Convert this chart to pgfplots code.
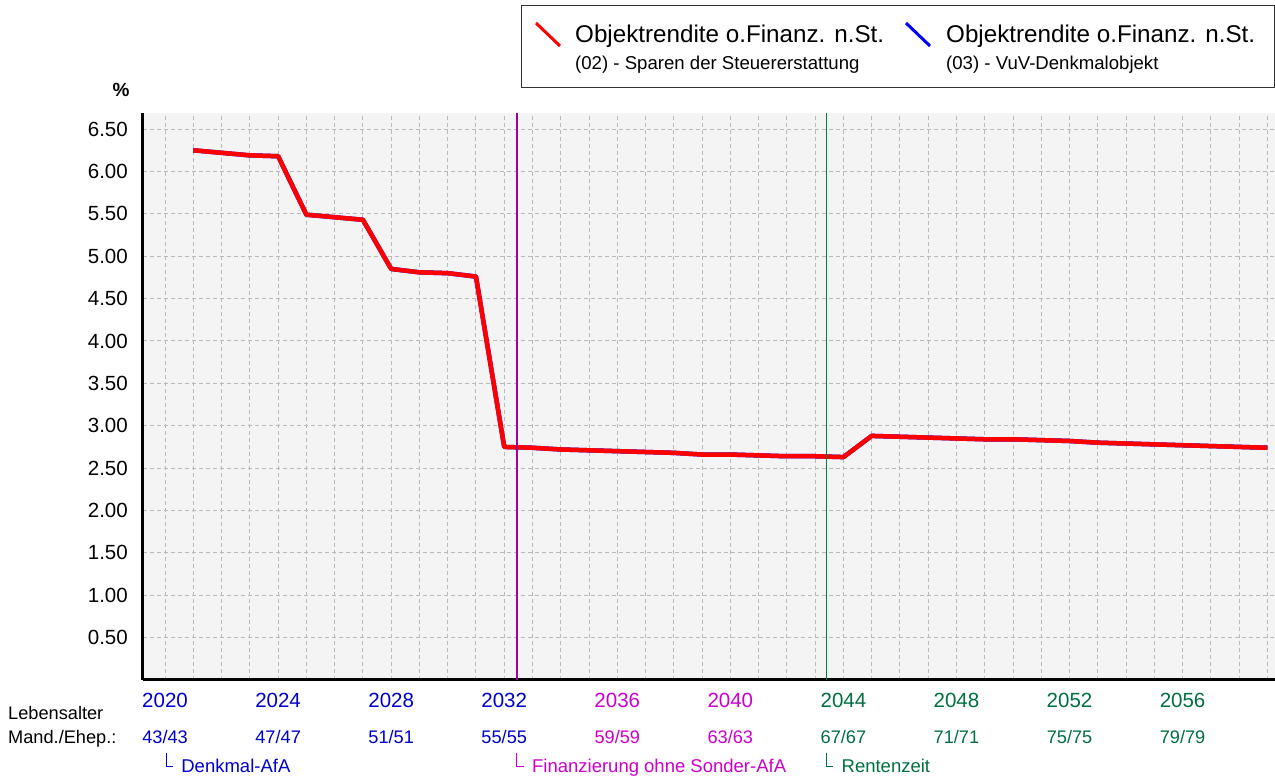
\documentclass[border=0pt]{standalone}
\usepackage{pgfplots}
\pgfplotsset{compat=1.18}
\usepackage{fontspec}
\setmainfont{Liberation Sans}
\definecolor{cblue}{RGB}{0,0,204}
\definecolor{cmag}{RGB}{204,0,204}
\definecolor{cgreen}{RGB}{0,112,64}
\definecolor{lmag}{RGB}{160,0,160}
\definecolor{lgreen}{RGB}{0,128,64}
\definecolor{bgc}{RGB}{244,244,244}
\definecolor{gridc}{RGB}{185,185,185}
\pgfplotstableread{
year val
2021 6.25
2022 6.22
2023 6.19
2024 6.18
2025 5.49
2026 5.46
2027 5.43
2028 4.85
2029 4.81
2030 4.80
2031 4.76
2032 2.75
2033 2.74
2034 2.72
2035 2.71
2036 2.70
2037 2.69
2038 2.68
2039 2.66
2040 2.66
2041 2.65
2042 2.64
2043 2.64
2044 2.63
2045 2.88
2046 2.87
2047 2.86
2048 2.85
2049 2.84
2050 2.84
2051 2.83
2052 2.82
2053 2.80
2054 2.79
2055 2.78
2056 2.77
2057 2.76
2058 2.75
2059 2.74
}\datatable
\begin{document}
\begin{tikzpicture}
\useasboundingbox (-143pt,-98pt) rectangle (1132pt,680pt);
\begin{axis}[
  at={(0,0)}, anchor=south west,
  scale only axis, width=1132pt, height=567pt,
  xmin=2019.22, xmax=2059.27, ymin=0, ymax=6.69,
  axis x line*=bottom, axis y line*=left,
  axis line style={-, line width=3pt, black},
  axis background/.style={fill=bgc},
  clip=false,
  xtick={2020,2024,2028,2032,2036,2040,2044,2048,2052,2056},
  xticklabels={\textcolor{cblue}{2020},\textcolor{cblue}{2024},\textcolor{cblue}{2028},\textcolor{cblue}{2032},\textcolor{cmag}{2036},\textcolor{cmag}{2040},\textcolor{cgreen}{2044},\textcolor{cgreen}{2048},\textcolor{cgreen}{2052},\textcolor{cgreen}{2056}},
  minor xtick={2021,2022,2023,2025,2026,2027,2029,2030,2031,2033,2034,2035,2037,2038,2039,2041,2042,2043,2045,2046,2047,2049,2050,2051,2053,2054,2055,2057,2058,2059},
  ytick={0.5,1.0,1.5,2.0,2.5,3.0,3.5,4.0,4.5,5.0,5.5,6.0,6.5},
  /pgf/number format/assume math mode=true,
  yticklabel={\pgfmathprintnumber[fixed,fixed zerofill,precision=2,assume math mode=true]{\tick}},
  major tick length=0pt, minor tick length=0pt,
  tick style={draw=none},
  grid=both,
  grid style={gridc, dash pattern=on 4pt off 3pt, line width=1pt},
  minor grid style={gridc, dash pattern=on 4pt off 3pt, line width=1pt},
  major grid style={gridc, dash pattern=on 4pt off 3pt, line width=1pt},
  xticklabel style={anchor=base, inner sep=0pt, yshift=-28pt, font=\fontsize{20.5}{24}\selectfont},
  yticklabel style={anchor=east, inner sep=0pt, xshift=-15pt, font=\fontsize{20.5}{24}\selectfont},
  extra x ticks={2020,2024,2028,2032,2036,2040,2044,2048,2052,2056},
  extra x tick labels={\textcolor{cblue}{43/43},\textcolor{cblue}{47/47},\textcolor{cblue}{51/51},\textcolor{cblue}{55/55},\textcolor{cmag}{59/59},\textcolor{cmag}{63/63},\textcolor{cgreen}{67/67},\textcolor{cgreen}{71/71},\textcolor{cgreen}{75/75},\textcolor{cgreen}{79/79}},
  extra x tick style={grid=none, major tick length=0pt, xticklabel style={yshift=-36pt, font=\fontsize{18.2}{22}\selectfont}},
]
\addplot[blue, line width=4.5pt, line join=round] table[x=year, y=val] {\datatable};
\addplot[red, line width=4.5pt, line join=round] table[x=year, y=val] {\datatable};
\addplot[lmag, line width=1.5pt] coordinates {(2032.45,0) (2032.45,6.69)};
\addplot[lgreen, line width=1.5pt] coordinates {(2043.4,0) (2043.4,6.69)};
\coordinate (b1) at (axis cs:2020.04,0);
\coordinate (b2) at (axis cs:2032.45,0);
\coordinate (b3) at (axis cs:2043.4,0);
\end{axis}
% legend
\draw[black!80, line width=1pt, fill=white] (378pt,592pt) rectangle (1131pt,674pt);
\draw[red, line width=3pt] (393pt,657pt) -- (417pt,634pt);
\node[anchor=base west, inner sep=0pt, font=\fontsize{24.2}{28}\selectfont] at (432pt,637pt) {Objektrendite o.Finanz. n.St.};
\node[anchor=base west, inner sep=0pt, font=\fontsize{18.6}{22}\selectfont] at (432pt,610pt) {(02) - Sparen der Steuererstattung};
\draw[blue, line width=3pt] (763pt,657pt) -- (787pt,634pt);
\node[anchor=base west, inner sep=0pt, font=\fontsize{24.2}{28}\selectfont] at (803pt,637pt) {Objektrendite o.Finanz. n.St.};
\node[anchor=base west, inner sep=0pt, font=\fontsize{18.6}{22}\selectfont] at (803pt,610pt) {(03) - VuV-Denkmalobjekt};
% other labels
\node[anchor=base, font=\bfseries\fontsize{19}{22}\selectfont] at (-22pt,583pt) {\%};
\node[anchor=base west, inner sep=0pt, font=\fontsize{18.2}{22}\selectfont] at (-135pt,-40pt) {Lebensalter};
\node[anchor=base west, inner sep=0pt, font=\fontsize{18.2}{22}\selectfont] at (-135pt,-64pt) {Mand./Ehep.:};
\draw[cblue, line width=1pt] ([yshift=-73pt]b1) -- ++(0,-14pt) -- ++(7pt,0);
\node[anchor=base west, inner sep=0pt, text=cblue, font=\fontsize{18.5}{22}\selectfont] at ([xshift=15pt,yshift=-93pt]b1) {Denkmal-AfA};
\draw[cmag, line width=1pt] ([yshift=-73pt]b2) -- ++(0,-14pt) -- ++(7pt,0);
\node[anchor=base west, inner sep=0pt, text=cmag, font=\fontsize{18.5}{22}\selectfont] at ([xshift=15pt,yshift=-93pt]b2) {Finanzierung ohne Sonder-AfA};
\draw[cgreen, line width=1pt] ([yshift=-73pt]b3) -- ++(0,-14pt) -- ++(7pt,0);
\node[anchor=base west, inner sep=0pt, text=cgreen, font=\fontsize{18.5}{22}\selectfont] at ([xshift=15pt,yshift=-93pt]b3) {Rentenzeit};
\end{tikzpicture}
\end{document}
